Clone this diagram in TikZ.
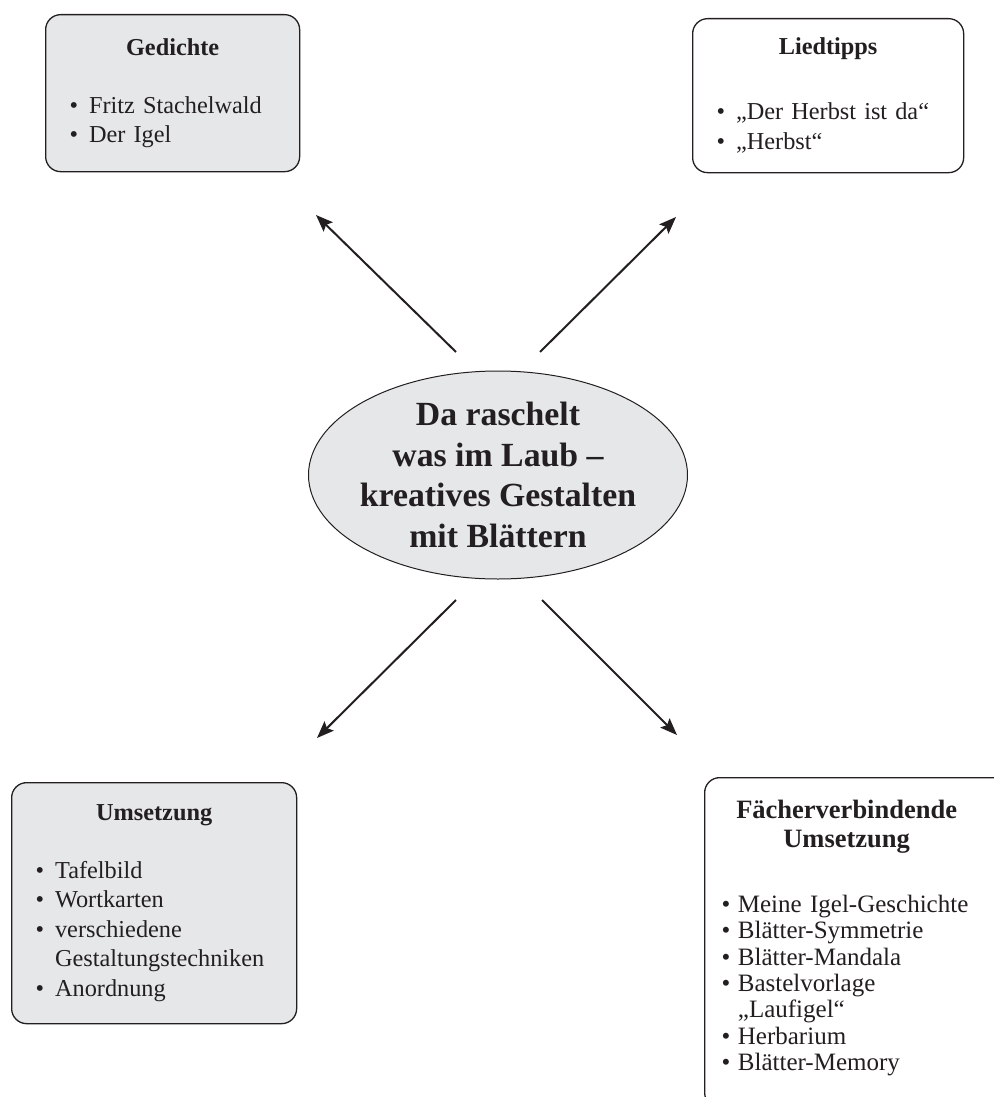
\documentclass[tikz,border=0pt]{standalone}
\usepackage{fontspec}
\setmainfont{Liberation Serif}
\usepackage{xcolor}
\usepackage{tikz}
\usetikzlibrary{
  arrows.meta,
  positioning,
  shapes.geometric
}
\definecolor{kastengrau}{HTML}{E6E7E9}
\definecolor{druckschwarz}{HTML}{231F20}
\newcommand{\titel}[2][0pt]{\makebox[\hsize][c]{\bfseries #2\hspace*{#1}}}
\newcommand{\pkt}[1][0.45em]{\textbullet\hspace{#1}}
\newcommand{\einzug}[1][0.45em]{\hphantom{\textbullet\hspace{#1}}}
\tikzset{
  kasten/.style={
    rectangle, rounded corners=15pt, draw=druckschwarz, fill=#1,
    line width=1.3pt, text=druckschwarz, anchor=north west, align=left,
    inner xsep=24pt, inner ysep=0pt, font=\fontsize{24.3}{29.5}\selectfont
  },
  kasten/.default=white,
  thema/.style={
    ellipse, draw=druckschwarz, fill=kastengrau, line width=1pt,
    minimum width=379pt, minimum height=208pt, inner sep=-6pt,
    align=center, text=druckschwarz,
    font=\fontsize{33.8}{40.5}\selectfont\bfseries
  },
  pfeil/.style={
    -{Stealth[length=17pt,width=13pt,inset=3pt]}, line width=2pt,
    draw=druckschwarz
  },
}

\begin{document}
\begin{tikzpicture}[x=1pt,y=-1pt]
  \useasboundingbox (0,0) rectangle (993,1097);

  %% Thema in der Mitte
  \node[thema] (thema) at (498,475) {Da raschelt\\was im Laub –\\kreatives Gestalten\\mit Blättern};

  %% Kaesten in den Ecken
  \node[kasten=kastengrau, text width=206pt, minimum height=157pt] (gedichte) at (45,14) {
    \titel{Gedichte}\\[28.5pt]
    \pkt Fritz Stachelwald\\
    \pkt Der Igel
  };
  \node[kasten, text width=223pt, minimum height=154pt] (liedtipps) at (692,18) {
    \titel{Liedtipps}\\[35.5pt]
    \pkt „Der Herbst ist da“\\
    \pkt „Herbst“
  };
  \node[kasten=kastengrau, text width=237pt, minimum height=241pt] (umsetzung) at (11,782) {
    \titel{Umsetzung}\\[28.5pt]
    \pkt Tafelbild\\
    \pkt Wortkarten\\
    \pkt verschiedene\\
    \einzug Gestaltungstechniken\\
    \pkt Anordnung
  };
  \node[kasten, text width=269pt, inner xsep=17pt, minimum height=330pt,
        font=\fontsize{25}{26.3}\selectfont] (faecher) at (704,777) {
    {\fontsize{26.5}{30}\selectfont\titel[19pt]{Fächerverbindende}}\\[3pt]
    {\fontsize{26.5}{30}\selectfont\titel[19pt]{Umsetzung}}\\[39pt]
    \pkt[0.3em]Meine Igel-Geschichte\\
    \pkt[0.3em]Blätter-Symmetrie\\
    \pkt[0.3em]Blätter-Mandala\\
    \pkt[0.3em]Bastelvorlage\\
    \einzug[0.3em]„Laufigel“\\
    \pkt[0.3em]Herbarium\\
    \pkt[0.3em]Blätter-Memory\\[-11pt]
    \mbox{}
  };

  %% Pfeile
  \coordinate (ged-a) at (456,352);
  \coordinate (ged-b) at (316,215);
  \coordinate (lied-a) at (540,352);
  \coordinate (lied-b) at (676,217);
  \coordinate (ums-a) at (456,600);
  \coordinate (ums-b) at (317,738);
  \coordinate (fae-a) at (542,600);
  \coordinate (fae-b) at (677,735);

  \draw[pfeil] (ged-a) -- (ged-b);
  \draw[pfeil] (lied-a) -- (lied-b);
  \draw[pfeil] (ums-a) -- (ums-b);
  \draw[pfeil] (fae-a) -- (fae-b);

\end{tikzpicture}
\end{document}
